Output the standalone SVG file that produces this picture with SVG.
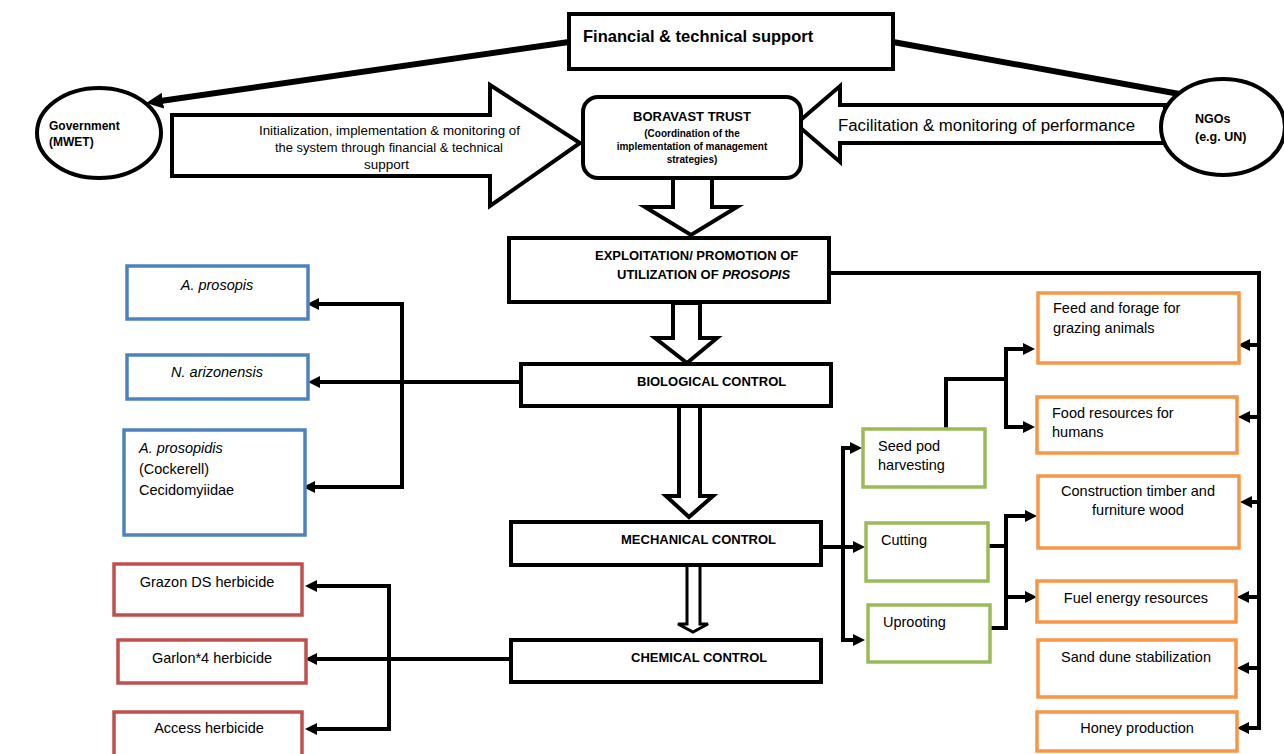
<svg xmlns="http://www.w3.org/2000/svg" width="1284" height="754" viewBox="0 0 1284 754">
<style>
text{font-family:"Liberation Sans",Arial,sans-serif;fill:#000}
.bk{fill:#fff;stroke:#000;stroke-width:4}
.blk{fill:#fff;stroke:#000;stroke-width:4;stroke-linejoin:miter}
.blue{fill:#fff;stroke:#4F81BD;stroke-width:3.5}
.red{fill:#fff;stroke:#C0504D;stroke-width:3.5}
.green{fill:#fff;stroke:#9BBB59;stroke-width:3.5}
.orange{fill:#fff;stroke:#F79646;stroke-width:3.5}
.hd{font-weight:bold;font-size:13px}
.t{font-size:14.5px}
.it{font-style:italic}
.c{text-anchor:middle}
.ln{fill:none;stroke:#000;stroke-width:4}
.ar{fill:none;stroke:#000;stroke-width:4;marker-end:url(#ah)}
.thick{fill:none;stroke:#000;stroke-width:6}
</style>
<defs>
<marker id="ah" markerUnits="userSpaceOnUse" markerWidth="14" markerHeight="14" refX="4" refY="6" orient="auto"><path d="M0,0 L12,6 L0,12 z" fill="#000"/></marker>
<marker id="ahb" markerUnits="userSpaceOnUse" markerWidth="18" markerHeight="18" refX="6" refY="8" orient="auto"><path d="M0,0 L17,8 L0,16 z" fill="#000"/></marker>
</defs>
<rect width="1284" height="754" fill="#fff"/>

<g id="connectors">
<path class="thick" d="M569,42 L157,101.5" marker-end="url(#ahb)"/>
<path class="thick" d="M893,42 L1185,95"/>
<path class="ln" d="M829,273 H1259 V730"/>
<path class="ar" d="M1259,345 H1246"/>
<path class="ar" d="M1259,417 H1246"/>
<path class="ar" d="M1259,502 H1248"/>
<path class="ar" d="M1259,597 H1245"/>
<path class="ar" d="M1259,668 H1245"/>
<path class="ar" d="M1261,728 H1245"/>
<path class="ar" d="M521,382 H316"/>
<path class="ar" d="M402,382 V304 H315"/>
<path class="ar" d="M402,382 V487 H311"/>
<path class="ar" d="M511,659 H313"/>
<path class="ar" d="M389,659 V586 H313"/>
<path class="ar" d="M389,659 V729 H313"/>
<path class="ar" d="M821,547 H857"/>
<path class="ar" d="M843,547 V448 H854"/>
<path class="ar" d="M843,547 V640 H857"/>
<path class="ln" d="M946,429 V379 H1006"/>
<path class="ar" d="M1006,379 V349 H1027"/>
<path class="ar" d="M1006,379 V427 H1027"/>
<path class="ln" d="M988,546 H1006"/>
<path class="ar" d="M990,628 H1006 V516 H1029"/>
<path class="ar" d="M1006,597 H1029"/>
<polygon class="blk" points="172,115 490,115 490,85 580,143 490,206 490,176 172,176"/>
<polygon class="blk" points="1165,105 840,105 840,86 796,124 840,162 840,143 1165,143"/>
<polygon class="blk" points="673,178 712,178 712,207 737,207 691,235 645,207 673,207"/>
<polygon class="blk" points="673,303 700,303 700,338 717,338 687,363 655,338 673,338"/>
<polygon class="blk" points="679,406 700,406 700,496 713,496 689,517 666,496 679,496"/>
<polygon class="blk" style="stroke-width:3" points="687,565 700,565 700,624 708,624 693,632 678,624 687,624"/>
<text x="259" y="135" style="font-size:12px" textLength="261" lengthAdjust="spacingAndGlyphs">Initialization, implementation  &amp; monitoring of</text>
<text x="275" y="152" style="font-size:12px" textLength="228" lengthAdjust="spacingAndGlyphs">the system through financial &amp; technical</text>
<text x="364" y="169" style="font-size:12px" textLength="45" lengthAdjust="spacingAndGlyphs">support</text>
<text x="838" y="131" style="font-size:16px" textLength="297" lengthAdjust="spacingAndGlyphs">Facilitation &amp; monitoring of performance</text>
</g>

<g id="financial">
<rect class="bk" x="569" y="14" width="324" height="55"/>
<text x="583" y="42" style="font-weight:bold;font-size:16.5px">Financial &amp; technical support</text>
</g>
<g id="government">
<ellipse class="bk" cx="99" cy="133" rx="62" ry="45"/>
<text x="49" y="130" style="font-weight:bold;font-size:12px">Government</text>
<text x="49" y="146" style="font-weight:bold;font-size:12px">(MWET)</text>
</g>
<g id="ngos">
<ellipse class="bk" cx="1223" cy="127" rx="62" ry="48"/>
<text x="1195" y="123" style="font-weight:bold;font-size:12.5px">NGOs</text>
<text x="1195" y="141" style="font-weight:bold;font-size:12.5px">(e.g. UN)</text>
</g>
<g id="boravast">
<rect class="bk" x="583" y="97" width="218" height="81" rx="15"/>
<text x="692" y="121" class="c" style="font-weight:bold;font-size:13px">BORAVAST TRUST</text>
<text x="692" y="137" class="c" style="font-weight:bold;font-size:10px">(Coordination of the</text>
<text x="692" y="150" class="c" style="font-weight:bold;font-size:10px">implementation of management</text>
<text x="692" y="163" class="c" style="font-weight:bold;font-size:10px">strategies)</text>
</g>
<g id="exploitation">
<rect class="bk" x="509" y="238" width="320" height="64"/>
<text x="595" y="260" class="hd">EXPLOITATION/ PROMOTION OF</text>
<text x="617" y="279" class="hd">UTILIZATION OF <tspan class="it">PROSOPIS</tspan></text>
</g>
<g id="biological">
<rect class="bk" x="521" y="364" width="310" height="42"/>
<text x="637" y="386" class="hd">BIOLOGICAL CONTROL</text>
</g>
<g id="mechanical">
<rect class="bk" x="511" y="522" width="310" height="43"/>
<text x="621" y="544" class="hd">MECHANICAL CONTROL</text>
</g>
<g id="chemical">
<rect class="bk" x="511" y="640" width="310" height="42"/>
<text x="631" y="662" class="hd">CHEMICAL CONTROL</text>
</g>

<g id="a-prosopis">
<rect class="blue" x="127" y="266" width="181" height="53"/>
<text x="217" y="290" class="t c it">A. prosopis</text>
</g>
<g id="n-arizonensis">
<rect class="blue" x="127" y="355" width="181" height="44"/>
<text x="217" y="377" class="t c it">N. arizonensis</text>
</g>
<g id="a-prosopidis">
<rect class="blue" x="124" y="430" width="181" height="105"/>
<text x="139" y="453" class="t it">A. prosopidis</text>
<text x="139" y="474" class="t">(Cockerell)</text>
<text x="139" y="495" class="t">Cecidomyiidae</text>
</g>

<g id="grazon">
<rect class="red" x="114" y="564" width="188" height="51"/>
<text x="207" y="587" class="t c">Grazon DS herbicide</text>
</g>
<g id="garlon">
<rect class="red" x="118" y="640" width="188" height="43"/>
<text x="212" y="663" class="t c">Garlon*4 herbicide</text>
</g>
<g id="access">
<rect class="red" x="114" y="712" width="188" height="50"/>
<text x="209" y="733" class="t c">Access herbicide</text>
</g>

<g id="seed-pod">
<rect class="green" x="863" y="429" width="122" height="58"/>
<text x="878" y="451" class="t">Seed pod</text>
<text x="878" y="470" class="t">harvesting</text>
</g>
<g id="cutting">
<rect class="green" x="866" y="523" width="122" height="58"/>
<text x="881" y="545" class="t">Cutting</text>
</g>
<g id="uprooting">
<rect class="green" x="868" y="605" width="122" height="57"/>
<text x="883" y="627" class="t">Uprooting</text>
</g>

<g id="feed">
<rect class="orange" x="1038" y="293" width="201" height="70"/>
<text x="1053" y="313" class="t">Feed and forage for</text>
<text x="1053" y="333" class="t">grazing animals</text>
</g>
<g id="food">
<rect class="orange" x="1037" y="397" width="200" height="56"/>
<text x="1052" y="418" class="t">Food resources for</text>
<text x="1052" y="437" class="t">humans</text>
</g>
<g id="construction">
<rect class="orange" x="1038" y="476" width="201" height="72"/>
<text x="1138" y="496" class="t c">Construction timber and</text>
<text x="1138" y="515" class="t c">furniture wood</text>
</g>
<g id="fuel">
<rect class="orange" x="1037" y="581" width="199" height="41"/>
<text x="1136" y="603" class="t c">Fuel energy resources</text>
</g>
<g id="sand">
<rect class="orange" x="1038" y="640" width="198" height="57"/>
<text x="1136" y="662" class="t c">Sand dune stabilization</text>
</g>
<g id="honey">
<rect class="orange" x="1037" y="712" width="200" height="39"/>
<text x="1137" y="733" class="t c">Honey production</text>
</g>
</svg>
